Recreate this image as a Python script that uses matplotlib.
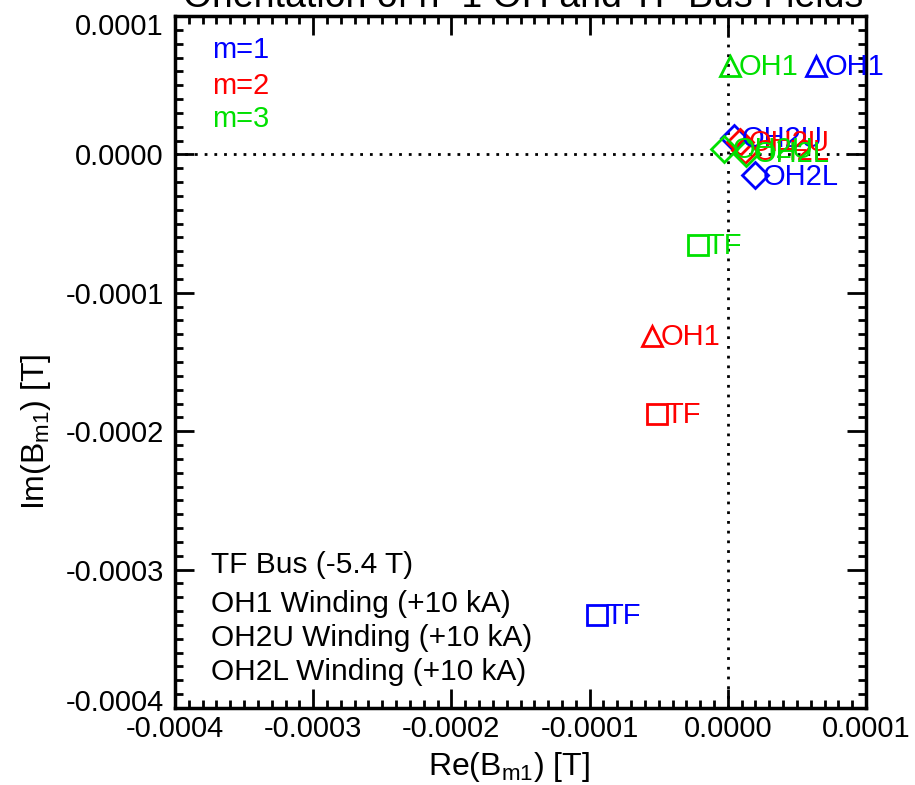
import matplotlib
matplotlib.use("Agg")
import matplotlib.pyplot as plt
from matplotlib.ticker import MultipleLocator, FormatStrFormatter
from matplotlib.transforms import ScaledTranslation

plt.rcParams['font.family'] = ['Liberation Sans', 'DejaVu Sans']
plt.rcParams['mathtext.fontset'] = 'custom'
plt.rcParams['mathtext.rm'] = 'Liberation Sans'

# Data: complex B_m1 for each source, per mode m
sources = ["TF", "OH1", "OH2U", "OH2L"]
markers = ["s", "^", "D", "D"]
modes = ["m=1", "m=2", "m=3"]
colors = ["#0000ff", "#ff0000", "#00e000"]

re_m1 = [-0.0000946, 0.0000637, 0.0000043, 0.0000195]
im_m1 = [-0.0003328, 0.0000639, 0.0000122, -0.0000150]
re_m2 = [-0.0000515, -0.0000546, 0.0000087, 0.0000125]
im_m2 = [-0.0001876, -0.0001312, 0.0000089, 0.0000030]
re_m3 = [-0.0000215, 0.0000018, -0.0000029, 0.0000130]
im_m3 = [-0.0000655, 0.0000639, 0.0000040, 0.0000010]

legend_lines = ["TF Bus (-5.4 T)", "OH1 Winding (+10 kA)",
                "OH2U Winding (+10 kA)", "OH2L Winding (+10 kA)"]

fig = plt.figure(figsize=(9.15, 7.85), dpi=100)
ax = fig.add_axes([175 / 915, 1 - 708 / 785, 691 / 915, 692 / 785])

ax.axvline(0, color='black', linestyle=(0, (1, 2.5)), linewidth=2, zorder=1)
ax.axhline(0, color='black', linestyle=(0, (1, 2.5)), linewidth=2, zorder=1)

all_re = [re_m1, re_m2, re_m3]
all_im = [im_m1, im_m2, im_m3]
for re, im, col in zip(all_re, all_im, colors):
    for xv, yv, mk, name in zip(re, im, markers, sources):
        ms = 15 if mk == 's' else (14 if mk == '^' else 13)
        ax.plot([xv], [yv], marker=mk, markersize=ms, markerfacecolor='none',
                markeredgecolor=col, markeredgewidth=2, linestyle='none', zorder=3)
        ax.annotate(name, (xv, yv), xytext=(6, -1), textcoords='offset points',
                    color=col, fontsize=21, va='center', ha='left', zorder=4)

ax.set_xlim(-0.0004, 0.0001)
ax.set_ylim(-0.0004, 0.0001)
ax.xaxis.set_major_locator(MultipleLocator(0.0001))
ax.yaxis.set_major_locator(MultipleLocator(0.0001))
ax.xaxis.set_minor_locator(MultipleLocator(0.00001))
ax.yaxis.set_minor_locator(MultipleLocator(0.00001))
ax.xaxis.set_major_formatter(FormatStrFormatter('%.4f'))
ax.yaxis.set_major_formatter(FormatStrFormatter('%.4f'))
ax.tick_params(which='both', direction='in', top=True, right=True,
               labelsize=21, width=2, colors='black')
ax.tick_params(axis='x', which='major', length=14, pad=5)
ax.tick_params(axis='y', which='major', length=14, pad=8)
ax.tick_params(which='minor', length=6)
for s in ax.spines.values():
    s.set_linewidth(2.5)

# nudge the extreme y tick labels inward, as in the reference
yticks = ax.yaxis.get_major_ticks()
fig.canvas.draw()
for t in yticks:
    val = t.get_loc()
    if abs(val - 0.0001) < 1e-9:
        t.label1.set_transform(t.label1.get_transform() + ScaledTranslation(0, -8 / 100, fig.dpi_scale_trans))
    elif abs(val + 0.0004) < 1e-9:
        t.label1.set_transform(t.label1.get_transform() + ScaledTranslation(0, 8 / 100, fig.dpi_scale_trans))

ax.set_xlabel(r"Re(B$_{\mathrm{m1}}$) [T]", fontsize=23)
ax.set_ylabel(r"Im(B$_{\mathrm{m1}}$) [T]", fontsize=23)
ax.xaxis.label.set_va('center')
ax.yaxis.label.set_va('center')
ax.xaxis.set_label_coords((509 - 175) / 691, (708 - 767) / 692)
ax.yaxis.set_label_coords((36 - 175) / 691, (708 - 432) / 692)

mode_y = [0.939, 0.888, 0.840]
for lab, col, yy in zip(modes, colors, mode_y):
    ax.text(0.053, yy, lab, transform=ax.transAxes, color=col,
            fontsize=21, va='baseline', ha='left')

legend_y = [0.195, 0.139, 0.090, 0.040]
for lab, yy in zip(legend_lines, legend_y):
    ax.text(0.052, yy, lab, transform=ax.transAxes, color='black',
            fontsize=21.5, va='baseline', ha='left')

fig.text(523 / 915, 1 - 7 / 785, "Orientation of n=1 OH and TF Bus Fields",
         fontsize=27, ha='center', va='baseline')

fig.savefig("out.png", dpi=100)
